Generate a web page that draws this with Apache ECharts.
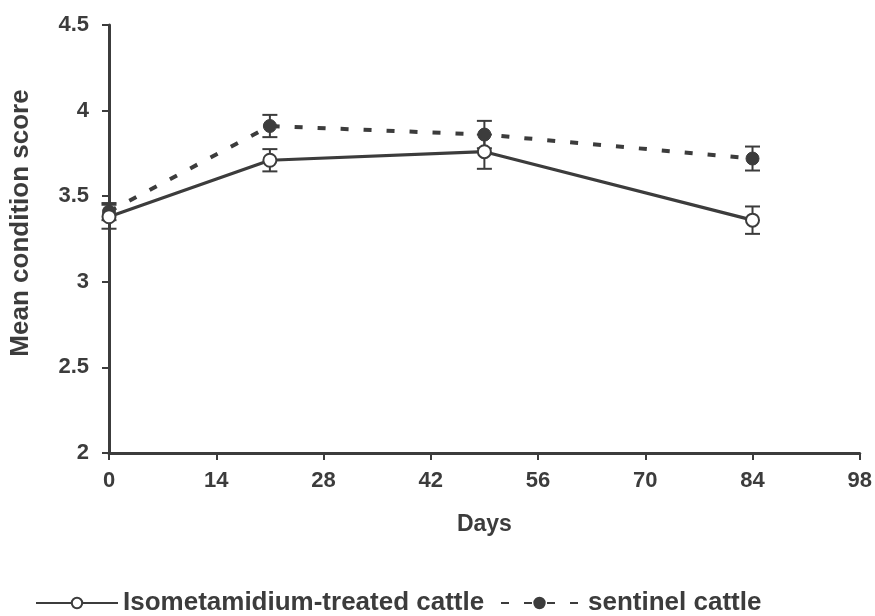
<!DOCTYPE html>
<html><head><meta charset="utf-8">
<script src="https://cdn.jsdelivr.net/npm/echarts@6/dist/echarts.min.js"></script>
<style>html,body{margin:0;padding:0;background:#fff}#c{width:875px;height:616px}</style>
</head><body><div id="c"></div>
<script>
const days = [0, 21, 49, 84];
const treatedMean = [3.38, 3.71, 3.76, 3.36];
const treatedErr  = [0.07, 0.065, 0.10, 0.08];
const sentinelMean = [3.41, 3.91, 3.86, 3.72];
const sentinelErr  = [0.05, 0.065, 0.08, 0.07];
const xTicks = [0, 14, 28, 42, 56, 70, 84, 98];
const yTicks = [2, 2.5, 3, 3.5, 4, 4.5];
const names = ['Isometamidium-treated cattle', 'sentinel cattle'];

const ink = '#3c3c3c';
const font = 'Liberation Sans, Arial, sans-serif';

function errData(means, errs){ return days.map((d,i)=>[d, means[i]-errs[i], means[i]+errs[i]]); }
function errSeries(means, errs){
  return {
    type:'custom', silent:true, z:3,
    data: errData(means, errs),
    encode:{x:0, y:[1,2]},
    renderItem:function(params, api){
      const lo = api.coord([api.value(0), api.value(1)]);
      const hi = api.coord([api.value(0), api.value(2)]);
      const w = 7.5;
      const st = {stroke:ink, lineWidth:2};
      return {type:'group', children:[
        {type:'line', shape:{x1:lo[0],y1:lo[1],x2:hi[0],y2:hi[1]}, style:st},
        {type:'line', shape:{x1:lo[0]-w,y1:lo[1],x2:lo[0]+w,y2:lo[1]}, style:st},
        {type:'line', shape:{x1:hi[0]-w,y1:hi[1],x2:hi[0]+w,y2:hi[1]}, style:st}
      ]};
    }
  };
}

const legendText = {color:ink, fontSize:26, fontFamily:font, fontWeight:'bold', lineHeight:26};

const chart = echarts.init(document.getElementById('c'), null, {renderer:'canvas'});
chart.setOption({
  animation:false,
  backgroundColor:'#fff',
  grid:{left:108, right:12, top:25, bottom:163},
  xAxis:{
    type:'value', min:0, max:98, interval:14,
    name:'Days', nameLocation:'middle', nameGap:60,
    nameTextStyle:{color:ink, fontSize:23, fontFamily:font, fontWeight:'bold'},
    axisLine:{lineStyle:{color:ink, width:3}},
    axisTick:{show:true, length:7, lineStyle:{color:ink, width:2}},
    axisLabel:{color:ink, fontSize:22, fontFamily:font, fontWeight:'bold', margin:17,
      formatter:v=> xTicks.includes(v) ? String(v) : ''},
    splitLine:{show:false}
  },
  yAxis:{
    type:'value', min:2, max:4.5, interval:0.5,
    name:'Mean condition score', nameLocation:'middle', nameGap:75, nameRotate:90,
    nameTextStyle:{color:ink, fontSize:26, fontFamily:font, fontWeight:'bold', padding:[0,0,0,32]},
    axisLine:{lineStyle:{color:ink, width:3}},
    axisTick:{show:true, length:7, lineStyle:{color:ink, width:2}},
    axisLabel:{color:ink, fontSize:22, fontFamily:font, fontWeight:'bold', margin:20,
      formatter:v=> yTicks.includes(v) ? String(v) : ''},
    splitLine:{show:false}
  },
  legend:[
    {data:[names[0]], left:35, top:582, padding:0, itemWidth:82, itemHeight:13, itemGap:0,
     textStyle:Object.assign({}, legendText, {padding:[0,0,16,0]})},
    {data:[names[1]], left:500, top:582, padding:0, itemWidth:77, itemHeight:13, itemGap:0,
     textStyle:Object.assign({}, legendText, {padding:[0,0,16,5]})}
  ],
  series:[
    errSeries(treatedMean, treatedErr),
    errSeries(sentinelMean, sentinelErr),
    {name:names[1], type:'line', z:4, data:days.map((d,i)=>[d, sentinelMean[i]]),
     symbol:'circle', symbolSize:13,
     itemStyle:{color:ink, borderColor:ink, borderWidth:1},
     lineStyle:{color:ink, width:4, type:[8,15]}},
    {name:names[0], type:'line', z:5, data:days.map((d,i)=>[d, treatedMean[i]]),
     symbol:'circle', symbolSize:13,
     itemStyle:{color:'#fff', borderColor:ink, borderWidth:2},
     lineStyle:{color:ink, width:3.2}}
  ]
});
</script></body></html>
